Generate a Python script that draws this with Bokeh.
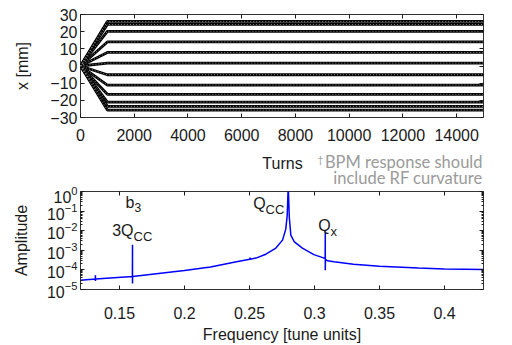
from bokeh.plotting import figure
from bokeh.layouts import column
from bokeh.models import Range1d, FixedTicker, LinearAxis, LogAxis, Label, CustomJSTickFormatter
from bokeh.embed import file_html
from bokeh.resources import INLINE

# ---------------- data: top panel (orbit offsets vs turns) ----------------
turn_knots = [0, 1000, 15000]          # start, end of ramp, end of tracking
start_x_mm = 0.0
final_x_mm = [26.0, 24.2, 20.2, 14.0, 7.9, 1.7, -5.1, -11.1, -16.5, -21.0, -23.5, -25.7]
turn_ticks = [0, 2000, 4000, 6000, 8000, 10000, 12000, 14000]
x_mm_ticks = [-30, -20, -10, 0, 10, 20, 30]

# ---------------- data: bottom panel (spectrum) ----------------
freq = [0.120, 0.1314, 0.1315, 0.1315, 0.1316, 0.140, 0.1599, 0.160, 0.160, 0.1601,
        0.180, 0.200, 0.220, 0.240, 0.2503, 0.2504, 0.2505, 0.255, 0.2626, 0.2703,
        0.2754, 0.2779, 0.2790, 0.2798, 0.2806, 0.2818, 0.2843, 0.2907, 0.2995, 0.3074,
        0.3082, 0.3083, 0.3083, 0.3084, 0.310, 0.315, 0.330, 0.350, 0.380, 0.400, 0.430]
amp = [3.0e-5, 3.45e-5, 5.4e-5, 2.75e-5, 3.45e-5, 3.8e-5, 4.6e-5, 1.9e-3, 2.0e-5, 4.6e-5,
       6.6e-5, 9.3e-5, 1.4e-4, 2.6e-4, 3.5e-4, 4.2e-4, 3.5e-4, 4.0e-4, 6.3e-4, 1.3e-3,
       3.3e-3, 1.2e-2, 6.0e-2, 2.0, 5.0e-2, 6.0e-3, 2.8e-3, 1.3e-3, 6.0e-4, 4.0e-4,
       3.9e-4, 9.0e-3, 9.5e-5, 3.4e-4, 2.9e-4, 2.6e-4, 1.95e-4, 1.55e-4, 1.25e-4, 1.12e-4, 1.05e-4]
freq_ticks = [0.15, 0.2, 0.25, 0.3, 0.35, 0.4]
amp_decades = [1e-5, 1e-4, 1e-3, 1e-2, 1e-1, 1e0]
peak_3qcc = 0.160
peak_qcc = 0.2798
peak_qx = 0.3083

FONT = "Liberation Sans"
NOTE_FONT = "Lato"
INK = "#1a1a1a"
GREY = "#9a9a9a"
W = 496
LEFT = 80
FRAME_RIGHT = 483


def style_axis(ax, labels=True, tick_len=4, minor_len=0):
    ax.axis_line_color = None
    ax.major_tick_in = tick_len
    ax.major_tick_out = 0
    ax.minor_tick_in = minor_len
    ax.minor_tick_out = 0
    ax.major_tick_line_color = INK
    ax.minor_tick_line_color = INK
    ax.major_label_text_font = FONT
    ax.major_label_text_color = INK
    ax.major_label_text_font_size = "16px"
    ax.axis_label_text_font = FONT
    ax.axis_label_text_font_style = "normal"
    ax.axis_label_text_color = INK
    ax.axis_label_text_font_size = "16px"
    if not labels:
        ax.formatter = CustomJSTickFormatter(code="return '';")
        ax.major_label_standoff = 0


# ---------------- top figure ----------------
p1 = figure(width=W, height=150, x_range=Range1d(0, 15000), y_range=Range1d(-30, 30),
            output_backend="svg", toolbar_location=None,
            min_border_left=LEFT, min_border_right=W - FRAME_RIGHT, min_border_top=14,
            min_border_bottom=33)
p1.grid.visible = False
p1.outline_line_color = "#333333"

xs = [turn_knots for _ in final_x_mm]
ys = [[start_x_mm, v, v] for v in final_x_mm]
p1.multi_line(xs=xs, ys=ys, line_color="black", line_width=2.8)
p1.multi_line(xs=xs, ys=ys, line_color="#8c8c8c", line_width=1, line_dash="1 2")

p1.xaxis.ticker = FixedTicker(ticks=turn_ticks)
p1.yaxis.ticker = FixedTicker(ticks=x_mm_ticks)
p1.yaxis.axis_label = "x [mm]"
for ax in p1.xaxis + p1.yaxis:
    style_axis(ax)
p1.xaxis.major_label_standoff = 11
p1.yaxis.major_label_standoff = 3
p1.yaxis.axis_label_standoff = 16

top1 = LinearAxis(ticker=FixedTicker(ticks=turn_ticks))
right1 = LinearAxis(ticker=FixedTicker(ticks=x_mm_ticks))
style_axis(top1, labels=False)
style_axis(right1, labels=False)
p1.add_layout(top1, "above")
p1.add_layout(right1, "right")

# ---------------- text strip: x-axis title of top panel and footnote ----------------
TH = 36
pt = figure(width=W, height=TH, x_range=Range1d(0, W), y_range=Range1d(0, TH),
            output_backend="svg", toolbar_location=None, min_border=0,
            x_axis_location=None, y_axis_location=None)
pt.grid.visible = False
pt.outline_line_color = None


def strip_text(page_x, baseline, txt, font, size, color, align="left"):
    # page_x: from the figure's left edge; baseline: from the strip top
    pt.add_layout(Label(x=page_x - LEFT, y=TH - baseline, x_units="screen", y_units="screen",
                        text=txt, text_font=font, text_font_size=size, text_color=color,
                        text_align=align, text_baseline="alphabetic"))


strip_text(282, 13, "Turns", FONT, "16px", INK, align="center")
strip_text(FRAME_RIGHT - 166, 8, "\u2020", NOTE_FONT, "10px", GREY)
strip_text(FRAME_RIGHT - 1, 11, "BPM response should", NOTE_FONT, "16.5px", GREY, align="right")
strip_text(FRAME_RIGHT - 1, 27, "include RF curvature", NOTE_FONT, "16.5px", GREY, align="right")

# ---------------- bottom figure ----------------
p2 = figure(width=W, height=159, x_range=Range1d(0.12, 0.43), y_range=Range1d(1e-5, 1),
            y_axis_type="log", output_backend="svg", toolbar_location=None,
            min_border_left=LEFT, min_border_right=W - FRAME_RIGHT, min_border_top=5,
            min_border_bottom=52)
p2.grid.visible = False
p2.outline_line_color = "#333333"

p2.line(freq, amp, line_color="#0000ff", line_width=1.5)

minor_amp = [d * k for d in amp_decades[:-1] for k in range(2, 10)]
p2.xaxis.ticker = FixedTicker(ticks=freq_ticks)
p2.yaxis.ticker = FixedTicker(ticks=amp_decades, minor_ticks=minor_amp)
p2.xaxis.axis_label = "Frequency [tune units]"
p2.yaxis.axis_label = "Amplitude"
for ax in p2.xaxis:
    style_axis(ax)
for ax in p2.yaxis:
    style_axis(ax, minor_len=2)
p2.xaxis.major_label_standoff = 17
p2.xaxis.axis_label_standoff = 4
p2.yaxis.major_label_standoff = 3
p2.yaxis.axis_label_standoff = 14

top2 = LinearAxis(ticker=FixedTicker(ticks=freq_ticks))
right2 = LogAxis(ticker=FixedTicker(ticks=amp_decades, minor_ticks=minor_amp))
style_axis(top2, labels=False)
style_axis(right2, labels=False, minor_len=2)
p2.add_layout(top2, "above")
p2.add_layout(right2, "right")


def add_text(p, x, dx, y, txt, size):
    p.add_layout(Label(x=x, x_offset=dx, y=y, y_units="screen", text=txt, text_font=FONT,
                       text_font_size=size, text_color=INK, text_baseline="alphabetic"))


add_text(p2, peak_3qcc, -7, 87, "b", "16px")
add_text(p2, peak_3qcc, 2, 82, "3", "12px")
add_text(p2, peak_3qcc, -20.3, 59, "3Q", "16px")
add_text(p2, peak_3qcc, 1, 52.7, "CC", "13px")
add_text(p2, peak_qcc, -35, 86, "Q", "16px")
add_text(p2, peak_qcc, -22.7, 79.7, "CC", "13px")
add_text(p2, peak_qx, -7.1, 64.5, "Q", "16px")
add_text(p2, peak_qx, 5.2, 58.2, "x", "13px")

layout = column(p1, pt, p2, spacing=0)
open("out.html", "w").write(file_html(layout, INLINE))
